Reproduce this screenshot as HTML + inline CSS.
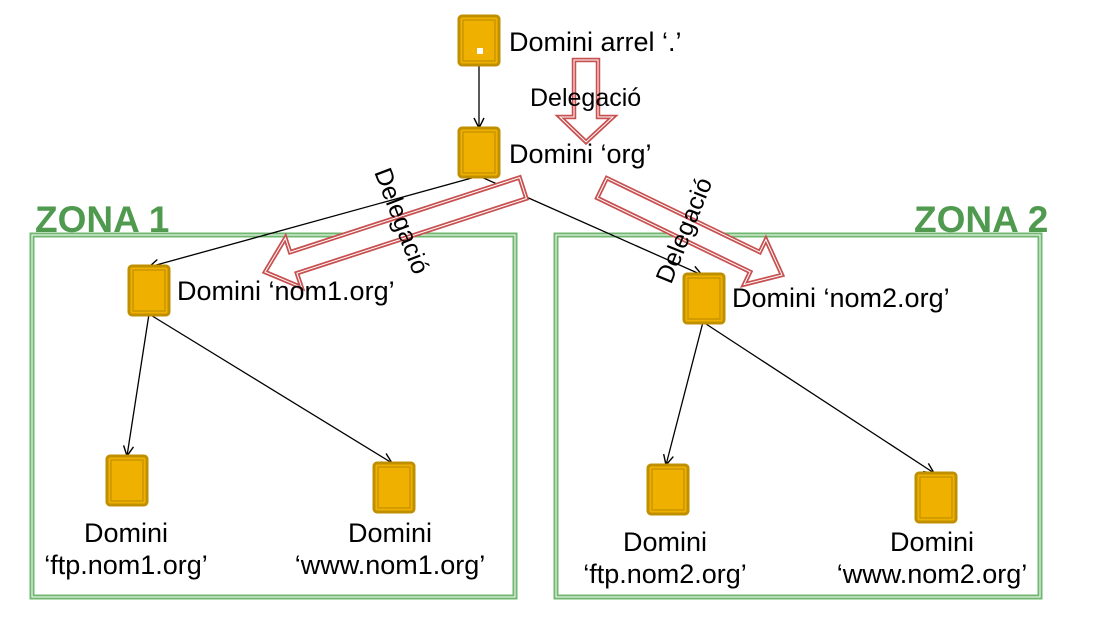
<!DOCTYPE html>
<html><head><meta charset="utf-8"><style>
html,body{margin:0;padding:0;background:#fff;}
svg{display:block;font-family:"Liberation Sans",Arial,sans-serif;}
</style></head><body>
<svg width="1098" height="628" viewBox="0 0 1098 628" xmlns="http://www.w3.org/2000/svg">
<defs>
<marker id="a" markerWidth="12" markerHeight="12" refX="11" refY="6" orient="auto" markerUnits="userSpaceOnUse">
<path d="M1,1 L11,6 L1,11" fill="none" stroke="#000" stroke-width="1.4"/>
</marker>
<g id="n">
<rect x="0" y="0" width="40" height="49" rx="3" fill="#f0b000" stroke="#bf8f00" stroke-width="3"/>
<rect x="4" y="4" width="32" height="41" fill="none" stroke="#c99600" stroke-width="1.5"/>
</g>
<polygon id="r1" points="574,60 598,60 598,117 613,117 586,142 560,117 574,117"/>
<polygon id="r2" points="519.6,177.5 290.1,252.2 285.4,238 265,272 301.6,287.4 296.9,273.2 526.4,198.5"/>
<polygon id="r3" points="606.8,178.1 759.8,252.1 765.9,239.5 782,275 744.1,284.5 750.2,271.9 597.2,197.9"/>
</defs>

<rect x="32" y="235" width="483" height="362" fill="none" stroke="#70b870" stroke-width="5"/>
<rect x="32" y="235" width="483" height="362" fill="none" stroke="#fff" stroke-width="1"/>
<rect x="556" y="235" width="484" height="362" fill="none" stroke="#70b870" stroke-width="5"/>
<rect x="556" y="235" width="484" height="362" fill="none" stroke="#fff" stroke-width="1"/>
<text x="35" y="232" font-size="37" font-weight="bold" fill="#4f9a4f">ZONA 1</text>
<text x="914" y="232" font-size="37" font-weight="bold" fill="#4f9a4f">ZONA 2</text>

<g stroke="#000" stroke-width="1.3" fill="none" marker-end="url(#a)">
<line x1="479" y1="65" x2="479" y2="128"/>
<line x1="479" y1="176" x2="149" y2="267"/>
<line x1="479" y1="176" x2="702" y2="275"/>
<line x1="149" y1="314" x2="127" y2="456"/>
<line x1="149" y1="314" x2="392" y2="463"/>
<line x1="703" y1="322" x2="666" y2="465"/>
<line x1="703" y1="322" x2="934" y2="473"/>
</g>

<g fill="#fff" stroke="#c85050" stroke-width="4.5" stroke-linejoin="miter">
<use href="#r1"/><use href="#r2"/><use href="#r3"/>
</g>
<g fill="none" stroke="#fff" stroke-width="1">
<use href="#r1"/><use href="#r2"/><use href="#r3"/>
</g>

<use href="#n" x="459" y="16"/>
<rect x="477" y="48" width="6" height="6" fill="#fff"/>
<use href="#n" x="459" y="128"/>
<use href="#n" x="129" y="266"/>
<use href="#n" x="684" y="274"/>
<use href="#n" x="107" y="456"/>
<use href="#n" x="374" y="463"/>
<use href="#n" x="648" y="465"/>
<use href="#n" x="916" y="473"/>

<g font-size="27" fill="#000">
<text x="509" y="51">Domini arrel ‘.’</text>
<text x="509" y="163">Domini ‘org’</text>
<text x="177" y="300">Domini ‘nom1.org’</text>
<text x="732" y="307">Domini ‘nom2.org’</text>
<g text-anchor="middle">
<text x="126" y="542">Domini</text>
<text x="126" y="574">‘ftp.nom1.org’</text>
<text x="390" y="542">Domini</text>
<text x="390" y="574">‘www.nom1.org’</text>
<text x="665" y="551">Domini</text>
<text x="665" y="583">‘ftp.nom2.org’</text>
<text x="932" y="551">Domini</text>
<text x="932" y="583">‘www.nom2.org’</text>
</g>
</g>
<g font-size="25" fill="#000">
<text x="530" y="106">Delegació</text>
<text transform="translate(374,172) rotate(69)">Delegació</text>
<text transform="translate(671,285) rotate(-68)">Delegació</text>
</g>
</svg>
</body></html>
